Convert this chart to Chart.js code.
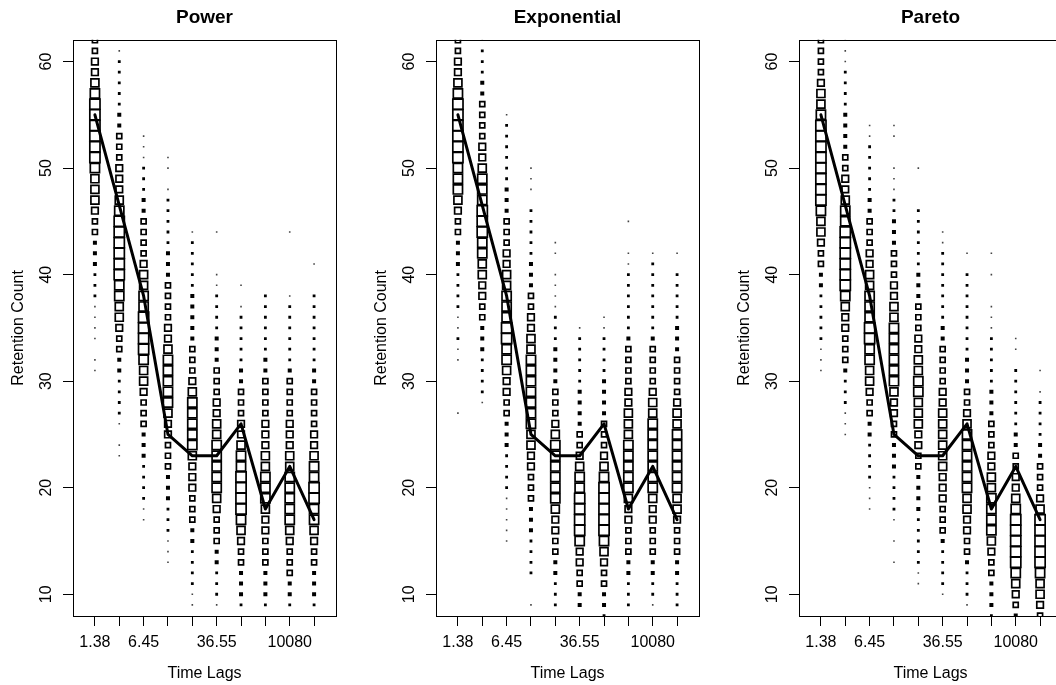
<!DOCTYPE html>
<html lang="en">
<head>
<meta charset="UTF-8">
<title>Retention Count by Time Lags</title>
<script src="https://cdn.jsdelivr.net/npm/chart.js"></script>
<style>
  html, body { margin: 0; padding: 0; background: #fff; overflow: hidden; }
  #wrap { position: relative; width: 1056px; height: 685px; overflow: hidden; }
  canvas { position: absolute; top: 0; }
</style>
</head>
<body>
<div id="wrap">
  <canvas id="c0" width="363" height="685" style="left:0px"></canvas>
  <canvas id="c1" width="363" height="685" style="left:363px"></canvas>
  <canvas id="c2" width="363" height="685" style="left:726px"></canvas>
</div>
<script>
// x categories (only the labels R had room to print are known)
const timeLags = ['1.38', '', '6.45', '', '', '36.55', '', '', '10080', ''];
const yTicks = [10, 20, 30, 40, 50, 60];
const panelTitles = ['Power', 'Exponential', 'Pareto'];

// observed median retention count per lag (same line in all panels)
const medianCount = [55, 46.5, 38, 25, 23, 23, 26, 18, 22, 17];

// square size class (0 = none .. 8 = biggest) for counts 62 down to 8,
// one string per lag
const countTop = 62;
const powerSizes = [
  '4455678888 8876665443 3322211110 1100000000 0000000000 00000',
  '0122222334 4455567888 8887766544 3322221011 0000000000 00000',
  '0000000001 1122233444 4566778888 7665444333 2222110000 00000',
  '0000000000 0110122222 3334444556 7777765544 4333222111 00000',
  '0000000000 0000000012 2222333334 4456777776 5554443322 22110',
  '0000000000 0000000010 0011222233 3444556677 7776544433 22210',
  '0000000000 0000000000 0001012222 2334445567 7888876544 33320',
  '0000000000 0000000000 0000222222 3344445556 6777655444 33320',
  '0000000000 0000000010 0000122222 2344445556 6777776544 43320',
  '0000000000 0000000000 0100222222 2334444556 7788776544 33320'
];
const exponentialSizes = [
  '4455678888 8877765443 3322221121 1000010000 0000000000 00000',
  '1222334444 5567778887 7665544333 2222100000 0000000000 00000',
  '0000000122 2222333444 5566777887 7655443332 2221111100 00000',
  '0000000000 0011102222 2333445566 7777777665 5444333222 20010',
  '0000000000 0000000001 1011112223 3334445677 7777655443 32220',
  '0000000000 0000000000 0000000122 2223333445 6778888755 44330',
  '0000000000 0000000000 0000001122 2233334445 6788888765 44332',
  '0000000000 0000000100 1122222234 4445566677 7776554443 32220',
  '0000000000 0000000000 1222222234 4445667777 7776554443 32210',
  '0000000000 0000000000 1022222333 4444566777 7776654443 32220'
];
const paretoSizes = [
  '4444566788 8888887665 4433222221 1100000000 0000000000 00000',
  '1112222333 3445567788 8888765544 4322211100 0000000000 00000',
  '0000000011 2222233444 5566777887 7665443322 2211100000 00000',
  '0000000011 0011122333 4445566777 7776554433 3222210101 00000',
  '0000000000 0010002222 2233344455 6677666554 4333322222 11000',
  '0000000000 0000000011 2222222334 4445566666 6555444322 22100',
  '0000000000 0000000000 1022222222 3334456777 7776655443 22210',
  '0000000000 0000000000 1010011122 2223334445 5667777654 43332',
  '0000000000 0000000000 0000000011 0222222334 4556788888 76543',
  '0000000000 0000000000 0000000000 0101222233 4445688888 76654'
];

const FONT = '"Liberation Sans", Arial, Helvetica, sans-serif';
Chart.defaults.font.family = FONT;
Chart.defaults.color = '#000';

// square side in px for each size class (path side, before the stroke)
const sideByLevel = [0, 1.6, 2.8, 4.0, 5.0, 6.6, 8.0, 9.2, 10.2];
const squareLine = 1.7;

function buildPoints(cols) {
  let pts = [];
  cols.forEach(function (str, i) {
    let digits = str.replace(/\s/g, '');
    for (let k = 0; k < digits.length; k++) {
      let level = +digits[k];
      if (level > 0) pts.push({ x: i + 1, y: countTop - k, level: level });
    }
  });
  return pts;
}

// rotated y labels (R style) + the box around the plot region
const rAxisBits = {
  id: 'rAxisBits',
  afterDraw(chart) {
    const ctx = chart.ctx;
    const ys = chart.scales.y;
    const a = chart.chartArea;
    ctx.save();
    ctx.fillStyle = '#000';
    ctx.font = '16px ' + FONT;
    ctx.textAlign = 'center';
    ctx.textBaseline = 'middle';
    yTicks.forEach(function (v) {
      ctx.save();
      ctx.translate(47, ys.getPixelForValue(v));
      ctx.rotate(-Math.PI / 2);
      ctx.fillText(String(v), 0, 0);
      ctx.restore();
    });
    ctx.strokeStyle = '#000';
    ctx.lineWidth = 1;
    ctx.strokeRect(Math.round(a.left) + 0.5, Math.round(a.top) + 0.5,
                   Math.round(a.right - a.left), Math.round(a.bottom - a.top));
    ctx.restore();
  }
};

function makePanel(id, title, sizes) {
  const pts = buildPoints(sizes);
  new Chart(document.getElementById(id), {
    type: 'scatter',
    data: {
      datasets: [
        {
          label: 'median',
          data: medianCount.map(function (v, i) { return { x: i + 1, y: v }; }),
          showLine: true,
          borderColor: '#000',
          borderWidth: 3,
          borderJoinStyle: 'round',
          borderCapStyle: 'round',
          pointRadius: 0,
          order: 0
        },
        {
          label: 'simulated',
          data: pts,
          order: 1,
          clip: 0,
          pointStyle: 'rect',
          pointRadius: function (c) {
            return c.raw ? sideByLevel[c.raw.level] / Math.SQRT2 : 0;
          },
          pointBorderWidth: function (c) {
            return c.raw && c.raw.level >= 4 ? squareLine : 0;
          },
          pointBorderColor: '#000',
          pointBackgroundColor: function (c) {
            if (!c.raw) return '#000';
            if (c.raw.level == 1) return '#444';
            if (c.raw.level < 4) return '#000';
            return 'rgba(0,0,0,0)';
          }
        }
      ]
    },
    options: {
      responsive: false,
      animation: false,
      events: [],
      layout: { padding: { left: 0, right: 27, top: 0, bottom: 0 } },
      plugins: {
        legend: { display: false },
        tooltip: { enabled: false },
        title: {
          display: true,
          text: title,
          fullSize: false,
          color: '#000',
          font: { size: 19, weight: 'bold' },
          padding: { top: 6, bottom: 11 }
        }
      },
      scales: {
        x: {
          type: 'linear',
          min: 0.1,
          max: 10.9,
          afterBuildTicks: function (s) {
            s.ticks = timeLags.map(function (t, i) { return { value: i + 1 }; });
          },
          afterFit: function (s) { s.height = 69; },
          ticks: {
            autoSkip: false,
            maxRotation: 0,
            minRotation: 0,
            padding: 7,
            color: '#000',
            font: { size: 16 },
            callback: function (v, i) { return timeLags[i]; }
          },
          grid: { drawOnChartArea: false, drawTicks: true, tickLength: 10, tickColor: '#000', tickWidth: 1 },
          border: { display: false },
          title: { display: true, text: 'Time Lags', color: '#000', font: { size: 16 }, padding: { top: 0, bottom: 2 } }
        },
        y: {
          type: 'linear',
          min: 7.96,
          max: 62.04,
          afterBuildTicks: function (s) {
            s.ticks = yTicks.map(function (v) { return { value: v }; });
          },
          afterFit: function (s) { s.width = 73; },
          ticks: { display: false },
          grid: { drawOnChartArea: false, drawTicks: true, tickLength: 10, tickColor: '#000', tickWidth: 1 },
          border: { display: false },
          title: { display: true, text: 'Retention Count', color: '#000', font: { size: 16 }, padding: { top: 9, bottom: 0 } }
        }
      }
    },
    plugins: [rAxisBits]
  });
}

makePanel('c0', panelTitles[0], powerSizes);
makePanel('c1', panelTitles[1], exponentialSizes);
makePanel('c2', panelTitles[2], paretoSizes);
</script>
</body>
</html>
